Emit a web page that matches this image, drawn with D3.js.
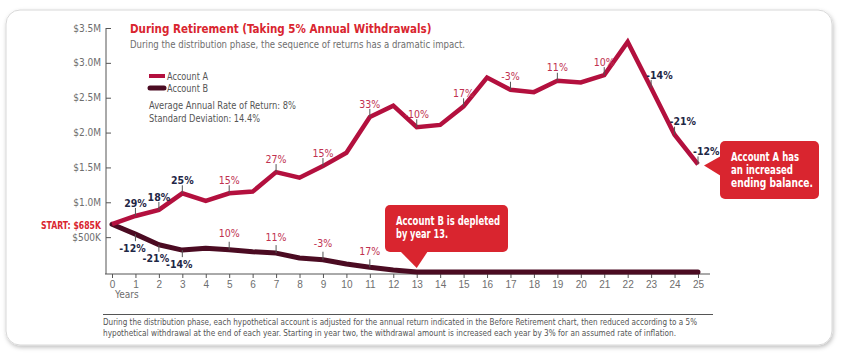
<!DOCTYPE html>
<html>
<head>
<meta charset="utf-8">
<script src="https://cdn.jsdelivr.net/npm/d3@7"></script>
<style>
  body { margin: 0; background: #fff; }
  svg { display: block; font-family: "DejaVu Sans", sans-serif; font-stretch: condensed; }
</style>
</head>
<body>
<svg id="chart" width="842" height="362"></svg>
<script>
// values, in $M
const years = d3.range(0, 26);
const accountA = [0.685, 0.804, 0.89, 1.129, 1.019, 1.129, 1.153, 1.433, 1.353, 1.519, 1.71, 2.224, 2.386,
  2.076, 2.11, 2.376, 2.79, 2.614, 2.58, 2.743, 2.719, 2.824, 3.30, 2.64, 1.97, 1.543];
const accountB = [0.685, 0.543, 0.39, 0.314, 0.339, 0.319, 0.29, 0.271, 0.2, 0.176, 0.114, 0.067, 0.029,
  0, 0, 0, 0, 0, 0, 0, 0, 0, 0, 0, 0, 0];
// annual return labels: [year, text, highlighted]
const labelsA = [[1, "29%", true], [2, "18%", true], [3, "25%", true], [5, "15%", false], [7, "27%", false],
  [9, "15%", false], [11, "33%", false], [13, "-10%", false], [15, "17%", false], [17, "-3%", false],
  [19, "11%", false], [21, "10%", false], [23, "-14%", true], [24, "-21%", true], [25, "-12%", true]];
const labelsB = [[1, "-12%", true], [2, "-21%", true], [3, "-14%", true], [5, "10%", false],
  [7, "11%", false], [9, "-3%", false], [11, "17%", false]];
const yTicks = [0.5, 1.0, 1.5, 2.0, 2.5, 3.0, 3.5];
const yTickLabels = ["$500K", "$1.0M", "$1.5M", "$2.0M", "$2.5M", "$3.0M", "$3.5M"];
const startLabel = "START: $685K";

const red = "#d9252f", crimson = "#b3103e", maroon = "#4b0b22", navy = "#1f2746", gray = "#6e6e6e";

const svg = d3.select("#chart");

// squeeze a text to the width it has in the picture (the original face is narrower)
function fit(sel, w) {
  return sel.attr("textLength", w).attr("lengthAdjust", "spacingAndGlyphs");
}

// panel with shadow
const defs = svg.append("defs");
const f = defs.append("filter").attr("id", "shadow").attr("x", "-5%").attr("y", "-5%").attr("width", "110%").attr("height", "115%");
f.append("feDropShadow").attr("dx", 1).attr("dy", 2).attr("stdDeviation", 2).attr("flood-color", "#000").attr("flood-opacity", 0.25);
svg.append("rect").attr("x", 6).attr("y", 10).attr("width", 826).attr("height", 335).attr("rx", 14)
  .attr("fill", "#fff").attr("stroke", "#d8d8d8").attr("filter", "url(#shadow)");

const x = d3.scaleLinear().domain([0, 25]).range([112, 698]);
const y = d3.scaleLinear().domain([0, 3.5]).range([272, 28]);
const axisY = y(0) + 2;

// y axis
const yAxis = svg.append("g").attr("transform", "translate(106,0)")
  .call(d3.axisRight(y).tickValues(yTicks).tickSize(5).tickFormat(""));
yAxis.select(".domain").attr("d", `M0,${y(3.5)}V${axisY}`).attr("stroke", "#555");
yAxis.selectAll(".tick line").attr("stroke", "#555");
svg.append("g").selectAll("text").data(yTicks).join("text")
  .attr("x", 101).attr("y", d => y(d)).attr("dy", "0.35em").attr("text-anchor", "end")
  .attr("font-size", 10).attr("fill", gray).text((d, i) => yTickLabels[i]);
fit(svg.append("text").attr("x", 101).attr("y", y(accountA[0]) + 1).attr("dy", "0.35em").attr("text-anchor", "end")
  .attr("font-size", 10.5).attr("font-weight", "bold").attr("fill", red).text(startLabel), 60);

// x axis
const xAxis = svg.append("g").attr("transform", `translate(0,${axisY})`)
  .call(d3.axisBottom(x).tickValues(years).tickSize(4).tickSizeOuter(0).tickPadding(3));
xAxis.select(".domain").attr("d", "M105,0H710").attr("stroke", "#555");
xAxis.selectAll(".tick line").attr("stroke", "#555");
xAxis.selectAll(".tick text").attr("font-size", 10).attr("fill", gray).attr("font-family", null);
svg.append("text").attr("x", 115).attr("y", 298).attr("font-size", 10).attr("fill", gray).text("Years");

// lines
const line = d3.line().x((d, i) => x(years[i])).y(d => y(d));
svg.append("path").datum(accountB).attr("d", line).attr("fill", "none")
  .attr("stroke", maroon).attr("stroke-width", 5).attr("stroke-linejoin", "round").attr("stroke-linecap", "round");
svg.append("path").datum(accountA).attr("d", line).attr("fill", "none")
  .attr("stroke", crimson).attr("stroke-width", 4.5).attr("stroke-linejoin", "miter");

// return labels
function drawLabels(labels, values, below) {
  const g = svg.append("g");
  labels.forEach(([yr, txt, hi]) => {
    const px = x(yr), py = y(values[yr]);
    const late = yr >= 23;
    const dir = below ? 1 : -1;
    g.append("line").attr("x1", px).attr("x2", px)
      .attr("y1", py).attr("y2", py + dir * (below ? 7 : 8))
      .attr("stroke", "#555").attr("stroke-width", 1);
    g.append("text")
      .attr("x", late ? px - 5 : (below ? px - 3 : px))
      .attr("y", py + dir * (below ? 14 : (values === accountB ? 16 : 13)))
      .attr("dy", "0.35em")
      .attr("text-anchor", late ? "start" : "middle")
      .attr("font-size", 10.5)
      .attr("font-weight", hi ? "bold" : "normal")
      .attr("fill", hi ? navy : "#c0304f")
      .text(txt);
  });
}
drawLabels(labelsA, accountA, false);
drawLabels(labelsB.filter(d => d[2]), accountB, true);
drawLabels(labelsB.filter(d => !d[2]), accountB, false);

// title
svg.append("text").attr("x", 130).attr("y", 33).attr("font-size", 11.5).attr("font-weight", "bold")
  .attr("fill", red).text("During Retirement (Taking 5% Annual Withdrawals)");
fit(svg.append("text").attr("x", 130).attr("y", 48).attr("font-size", 10.5).attr("fill", gray)
  .text("During the distribution phase, the sequence of returns has a dramatic impact."), 335);

// legend
const leg = svg.append("g");
leg.append("line").attr("x1", 149).attr("x2", 165).attr("y1", 76).attr("y2", 76)
  .attr("stroke", crimson).attr("stroke-width", 4);
leg.append("line").attr("x1", 150).attr("x2", 164).attr("y1", 88).attr("y2", 88)
  .attr("stroke", maroon).attr("stroke-width", 5).attr("stroke-linecap", "round");
fit(leg.append("text").attr("x", 167).attr("y", 76).attr("dy", "0.35em").attr("font-size", 11).attr("fill", "#555").text("Account A"), 41);
fit(leg.append("text").attr("x", 167).attr("y", 88).attr("dy", "0.35em").attr("font-size", 11).attr("fill", "#555").text("Account B"), 41);
fit(leg.append("text").attr("x", 149).attr("y", 105).attr("dy", "0.35em").attr("font-size", 11).attr("fill", "#555").text("Average Annual Rate of Return: 8%"), 147);
fit(leg.append("text").attr("x", 149).attr("y", 118).attr("dy", "0.35em").attr("font-size", 11).attr("fill", "#555").text("Standard Deviation: 14.4%"), 111);

// callouts
function callout(bx, by, bw, bh, pointer, lines, widths) {
  const g = svg.append("g");
  g.append("rect").attr("x", bx).attr("y", by).attr("width", bw).attr("height", bh).attr("rx", 5).attr("fill", red);
  g.append("path").attr("d", pointer).attr("fill", red);
  lines.forEach((t, i) => fit(g.append("text").attr("x", bx + 11).attr("y", by + 20 + i * 13)
    .attr("font-size", 12).attr("font-weight", "bold").attr("fill", "#fff").text(t), widths[i]));
}
const endX = x(25), endY = y(accountA[25]);
callout(720, 141, 99, 58, `M${endX + 6},${endY + 1}L721,156L721,176Z`,
  ["Account A has", "an increased", "ending balance."], [68, 62, 82]);
callout(385, 205, 123, 47, `M400,251L${x(13)},${y(0) - 4}L428,251Z`,
  ["Account B is depleted", "by year 13."], [104, 52]);

// footnote
svg.append("line").attr("x1", 103).attr("x2", 713).attr("y1", 314.5).attr("y2", 314.5).attr("stroke", "#555");
fit(svg.append("text").attr("x", 103).attr("y", 325).attr("font-size", 9).attr("fill", "#555")
  .text("During the distribution phase, each hypothetical account is adjusted for the annual return indicated in the Before Retirement chart, then reduced according to a 5%"), 594);
fit(svg.append("text").attr("x", 103).attr("y", 336).attr("font-size", 9).attr("fill", "#555")
  .text("hypothetical withdrawal at the end of each year. Starting in year two, the withdrawal amount is increased each year by 3% for an assumed rate of inflation."), 573);
</script>
</body>
</html>
